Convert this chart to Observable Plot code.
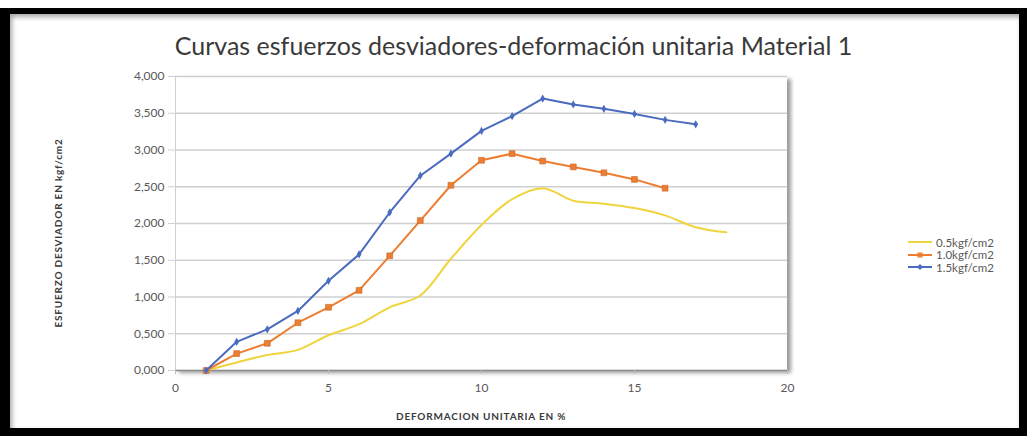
<!DOCTYPE html>
<html>
<head>
<meta charset="utf-8">
<script src="https://cdn.jsdelivr.net/npm/d3@7"></script>
<script src="https://cdn.jsdelivr.net/npm/@observablehq/plot@0.6"></script>
<style>
  html, body { margin: 0; padding: 0; background: #fff; }
  #chart { position: relative; width: 1027px; height: 436px; overflow: hidden; font-family: Lato, "Open Sans", sans-serif; }
  #frame { position: absolute; left: 0; top: 8px; width: 1027px; height: 428px; box-sizing: border-box;
           border-style: solid; border-color: #000; border-width: 6px 8px 8px 10px; background: #fff;
           box-shadow: inset 2px 3px 5px rgba(0,0,0,0.35); }
  #plotShadow { position: absolute; background: #fff; box-shadow: 4px 3px 4px rgba(0,0,0,0.4); }
  #plotHolder { position: absolute; left: 0; top: 0; }
  #title { position: absolute; left: 0; width: 1027px; top: 30px; text-align: center; font-size: 25px; color: #3a3a3a; }
  .axisTitle { position: absolute; font-size: 10px; letter-spacing: 0.8px; font-weight: bold; color: #3a3a3a; white-space: nowrap; }
  #legend { position: absolute; left: 908px; top: 236px; font-size: 11.5px; color: #595959; }
  #legend div { display: flex; align-items: center; height: 12.5px; }
  #legend svg { margin-right: 2px; }
</style>
</head>
<body>
<div id="chart">
  <div id="frame"></div>
  <div id="plotShadow"></div>
  <div id="plotHolder"></div>
  <div id="title">Curvas esfuerzos desviadores-deformación unitaria Material 1</div>
  <div class="axisTitle" id="xTitle">DEFORMACION UNITARIA EN %</div>
  <div class="axisTitle" id="yTitle">ESFUERZO DESVIADOR EN kgf/cm2</div>
  <div id="legend"></div>
</div>
<script>
// Unit strain (%) at each reading
const strain = [1, 2, 3, 4, 5, 6, 7, 8, 9, 10, 11, 12, 13, 14, 15, 16, 17, 18];

// Deviator stress (kgf/cm2) for each confining pressure
const stress05 = [0, 0.11, 0.21, 0.28, 0.48, 0.63, 0.86, 1.02, 1.52, 1.98, 2.33, 2.48, 2.31, 2.27, 2.21, 2.11, 1.95, 1.88];
const stress10 = [0, 0.23, 0.37, 0.65, 0.86, 1.09, 1.56, 2.04, 2.52, 2.86, 2.95, 2.85, 2.77, 2.69, 2.60, 2.48];
const stress15 = [0, 0.39, 0.56, 0.81, 1.22, 1.58, 2.15, 2.65, 2.95, 3.26, 3.46, 3.70, 3.62, 3.56, 3.49, 3.41, 3.35];

const seriesNames = ["0.5kgf/cm2", "1.0kgf/cm2", "1.5kgf/cm2"];
const seriesColors = ["#f0d43e", "#ed7d31", "#4a6bbf"];

// Axis ticks
const xTicks = [0, 5, 10, 15, 20];
const yTicks = [0, 0.5, 1, 1.5, 2, 2.5, 3, 3.5, 4];
const yTickLabels = ["0,000", "0,500", "1,000", "1,500", "2,000", "2,500", "3,000", "3,500", "4,000"];

const rows = (vals) => vals.map((v, i) => ({strain: strain[i], stress: v}));
const d05 = rows(stress05), d10 = rows(stress10), d15 = rows(stress15);

const W = 1027, H = 436;
const M = {left: 175, right: 240, top: 76, bottom: 66};

const chart = Plot.plot({
  width: W,
  height: H,
  marginLeft: M.left,
  marginRight: M.right,
  marginTop: M.top,
  marginBottom: M.bottom,
  style: {background: "transparent", fontFamily: "Lato, 'Open Sans', sans-serif", fontSize: "12px", color: "#595959"},
  x: {domain: [0, 20]},
  y: {domain: [0, 4]},
  marks: [
    Plot.gridY(yTicks, {stroke: "#cfcfcf", strokeOpacity: 1, strokeWidth: 1.3}),
    Plot.ruleX([0], {stroke: "#d0d0d0", strokeWidth: 1}),
    Plot.ruleY([0], {stroke: "#8c8c8c", strokeWidth: 1.5}),
    Plot.axisY(yTicks, {tickSize: 7, tickPadding: 4, stroke: "#cfcfcf", fill: "#595959",
      tickFormat: (d) => yTickLabels[yTicks.indexOf(d)], label: null}),
    Plot.axisX(xTicks, {tickSize: 4, tickPadding: 9, stroke: "#bdbdbd", fill: "#595959", label: null}),
    Plot.line(d05, {x: "strain", y: "stress", stroke: seriesColors[0], strokeWidth: 2, curve: "catmull-rom"}),
    Plot.line(d10, {x: "strain", y: "stress", stroke: seriesColors[1], strokeWidth: 2}),
    Plot.dot(d10, {x: "strain", y: "stress", symbol: "square", r: 3.3, fill: seriesColors[1], stroke: "#c86a2a", strokeWidth: 0.6}),
    Plot.line(d15, {x: "strain", y: "stress", stroke: seriesColors[2], strokeWidth: 2}),
    Plot.dot(d15, {x: "strain", y: "stress", symbol: "diamond", r: 2.5, fill: seriesColors[2]})
  ]
});
document.getElementById("plotHolder").appendChild(chart);

// Plot-area drop shadow sits behind the transparent SVG
const sh = document.getElementById("plotShadow");
sh.style.left = M.left + "px";
sh.style.top = M.top + "px";
sh.style.width = (W - M.left - M.right) + "px";
sh.style.height = (H - M.top - M.bottom) + "px";

// Axis titles
const xT = document.getElementById("xTitle");
xT.style.left = (M.left + (W - M.left - M.right) / 2 - xT.offsetWidth / 2) + "px";
xT.style.top = "410px";
const yT = document.getElementById("yTitle");
yT.style.left = (57 - yT.offsetWidth / 2) + "px";
yT.style.top = (233 - yT.offsetHeight / 2) + "px";
yT.style.transform = "rotate(-90deg)";

// Legend
const legend = document.getElementById("legend");
const symbols = [null, "square", "diamond"];
seriesNames.forEach((name, i) => {
  const row = document.createElement("div");
  const marker = symbols[i] === "square"
    ? `<rect x="9.5" y="2.5" width="5" height="5" fill="${seriesColors[i]}"/>`
    : symbols[i] === "diamond"
      ? `<path d="M12 2 L15 5 L12 8 L9 5 Z" fill="${seriesColors[i]}"/>`
      : "";
  row.innerHTML = `<svg width="26" height="10"><line x1="0" y1="5" x2="24" y2="5" stroke="${seriesColors[i]}" stroke-width="2"/>${marker}</svg><span>${name}</span>`;
  legend.appendChild(row);
});
</script>
</body>
</html>
